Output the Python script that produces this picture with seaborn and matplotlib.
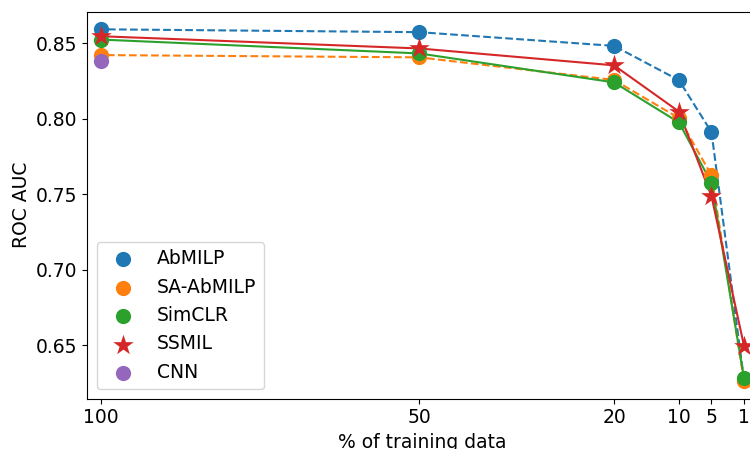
import pandas as pd
import matplotlib
matplotlib.use("Agg")
import matplotlib.pyplot as plt
import seaborn as sns

# % of training data (tick labels) and where they sit on the axis
pct_labels = ["100", "50", "20", "10", "5", "1"]
x_pos = [99, 50, 20, 10, 5, 0]

# ROC AUC per method
abmilp = [0.8594, 0.8575, 0.8484, 0.8256, 0.7912, 0.6270]
sa_abmilp = [0.8423, 0.8408, 0.8258, 0.8005, 0.7626, 0.6261]
simclr = [0.8526, 0.8434, 0.8242, 0.7976, 0.7575, 0.6283]
ssmil = [0.8548, 0.8467, 0.8355, 0.8048, 0.7487, 0.6496]
cnn = [0.8383]

methods = ["AbMILP", "SA-AbMILP", "SimCLR", "SSMIL", "CNN"]
values = [abmilp, sa_abmilp, simclr, ssmil, cnn]
colors = sns.color_palette("tab10", 5)
styles = {"AbMILP": "--", "SA-AbMILP": "--", "SimCLR": "-", "SSMIL": "-", "CNN": "-"}
markers = {"AbMILP": "o", "SA-AbMILP": "o", "SimCLR": "o", "SSMIL": "*", "CNN": "o"}
sizes = {"AbMILP": 120, "SA-AbMILP": 120, "SimCLR": 120, "SSMIL": 240, "CNN": 120}

rows = []
for m, vals in zip(methods, values):
    for x, v in zip(x_pos, vals):
        rows.append({"method": m, "x": x, "auc": v})
df = pd.DataFrame(rows)

plt.rcParams["font.size"] = 13.5
fig = plt.figure(figsize=(7.5, 4.49), dpi=100)
ax = fig.add_axes([87.3 / 750, 50.3 / 449, 670 / 750, 387 / 449])

# lines first
for m, c in zip(methods, colors):
    sub = df[df["method"] == m]
    if len(sub) > 1:
        sns.lineplot(data=sub, x="x", y="auc", color=c, linestyle=styles[m],
                     linewidth=1.5, ax=ax, legend=False)

# markers (these make the legend)
for m, c in zip(methods, colors):
    sub = df[df["method"] == m]
    sns.scatterplot(data=sub, x="x", y="auc", color=c, marker=markers[m],
                    s=sizes[m], linewidth=0, ax=ax, label=m, zorder=3)

ax.set_xlim(101.05, -2.05)
ax.set_xticks(x_pos)
ax.set_xticklabels(pct_labels)
ax.set_xlabel("% of training data")
ax.set_ylabel("ROC AUC")
ax.legend(loc="lower left", fontsize=13.5)

fig.savefig("out.png", dpi=100)
